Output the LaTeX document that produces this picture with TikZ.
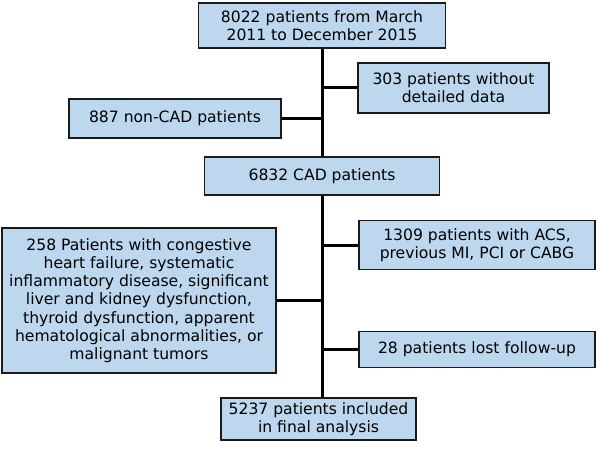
\documentclass[tikz,border=0pt]{standalone}
\usepackage{fontspec}
\setmainfont{DejaVu Sans}
\usepackage{xcolor}
\usetikzlibrary{positioning}
\definecolor{boxblue}{HTML}{BDD7EE}
\definecolor{boxline}{HTML}{1A1A1A}

\begin{document}
\begin{tikzpicture}[
  x=1pt,y=-1pt,
  font=\fontsize{15.6}{18.2}\selectfont,
  flowbox/.style={draw=boxline,line width=1.5pt,fill=boxblue,align=center,inner sep=2pt},
  trunk/.style={line width=3pt,draw=black},
  branch/.style={line width=3pt,draw=black}
]
  \useasboundingbox (0,0) rectangle (598,452);

  \node[flowbox,minimum width=247pt,minimum height=45pt] (start) at (322,25.5) {8022 patients from March\\2011 to December 2015};
  \node[flowbox,minimum width=191pt,minimum height=50pt] (nodata) at (453.5,88) {303 patients without\\detailed data};
  \node[flowbox,minimum width=212pt,minimum height=39pt] (noncad) at (175,118.5) {887 non-CAD patients};
  \node[flowbox,minimum width=235pt,minimum height=38pt] (cad) at (322,176) {6832 CAD patients};

  \node[flowbox,minimum width=274pt,minimum height=145pt] (comorb) at (139,300.5) {258 Patients with congestive\\heart failure, systematic\\inflammatory disease, significant\\liver and kidney dysfunction,\\thyroid dysfunction, apparent\\hematological abnormalities, or\\malignant tumors};
  \node[flowbox,minimum width=236pt,minimum height=49pt] (acs) at (477,245) {1309 patients with ACS,\\previous MI, PCI or CABG};
  \node[flowbox,minimum width=236pt,minimum height=36pt] (lost) at (477,349.5) {28 patients lost follow-up};
  \node[flowbox,minimum width=195pt,minimum height=42pt] (final) at (318.5,419) {5237 patients included\\in final analysis};

  % main line
  \draw[trunk] (start.south) -- (cad.north);
  \draw[trunk] (cad.south) -- (cad.south |- final.north);

  % exclusions
  \draw[branch] (nodata.west) -- (nodata.west -| start.south);
  \draw[branch] (noncad.east) -- (noncad.east -| start.south);
  \draw[branch] (acs.west) -- (acs.west -| cad.south);
  \draw[branch] (comorb.east) -- (comorb.east -| cad.south);
  \draw[branch] (lost.west) -- (lost.west -| cad.south);
\end{tikzpicture}
\end{document}
